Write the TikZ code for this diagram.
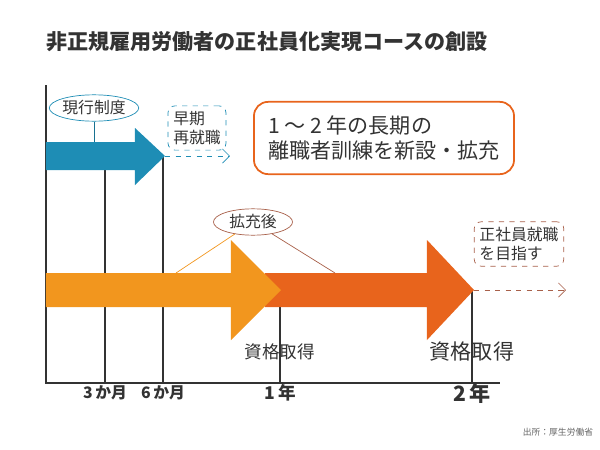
\documentclass[tikz,border=0pt]{standalone}
\usepackage{fontspec}
\setmainfont{Noto Sans CJK JP}
\usetikzlibrary{arrows.meta,shapes.geometric}
\definecolor{jpblue}{HTML}{1E8DB5}
\definecolor{jplight}{HTML}{F2961E}
\definecolor{jpdark}{HTML}{E8641C}
\definecolor{jpbrown}{HTML}{A8604A}
\definecolor{jptext}{HTML}{333333}
\tikzstyle{tick}=[draw=black!80, line width=0.6pt]
\tikzstyle{oval}=[ellipse, draw, fill=white, inner sep=0pt, minimum height=15pt, font=\small, text=jptext]
\tikzstyle{note}=[draw, dashed, rounded corners=4pt, align=left, font=\small, text=jptext, inner sep=3pt]
\begin{document}
\begin{tikzpicture}[x=0.02cm,y=-0.02cm]
  \useasboundingbox (0,0) rectangle (600,450);
  \node[anchor=west,font=\bfseries\large,text=jptext](title) at (40,42) {非正規雇用労働者の正社員化実現コースの創設};
  % time axis
  \coordinate (o) at (46,383);
  \coordinate (top) at (46,85);
  \coordinate (end) at (500,383);
  \draw[tick] (top) -- (o) -- (end);
  \draw[tick] (105,160) -- (105,383);
  \draw[tick] (163,157) -- (163,383);
  \draw[tick] (280,300) -- (280,383);
  \draw[tick] (472,290) -- (472,383);
  \node[font=\small\bfseries,text=jptext](m3) at (105,393) {3\,か月};
  \node[font=\small\bfseries,text=jptext](m6) at (163,393) {6\,か月};
  \node[font=\bfseries,text=jptext](y1) at (280,393) {1\,年};
  \node[font=\large\bfseries,text=jptext](y2) at (472,393) {2\,年};
  % current scheme
  \fill[jpblue] (46,142) -- (135,142) -- (135,128) -- (165,156) -- (135,185) -- (135,170) -- (46,170) -- cycle;
  \coordinate (btip) at (165,156);
  \coordinate (bend) at (230,156);
  \node[oval,draw=jpblue,minimum width=50pt](now) at (94,108) {現行制度};
  \draw[jpblue!80!black] (now.south) -- (94,142);
  \node[note,draw=jpblue](early) at (197,128) {早期\\再就職};
  \draw[jpblue,dashed,-{Straight Barb[length=4pt]}] (btip) -- (bend);
  \node[draw=jpdark,line width=1pt,rounded corners=8pt,align=left,text=jptext,inner sep=8pt,font=\large](msg) at (384,138) {1 ～ 2 年の長期の\\離職者訓練を新設・拡充};
  % expanded scheme
  \fill[jpdark] (265,273) -- (427,273) -- (427,240) -- (474,290) -- (427,340) -- (427,307) -- (265,307) -- cycle;
  \fill[jplight] (46,273) -- (231,273) -- (231,240) -- (281,290) -- (231,340) -- (231,307) -- (46,307) -- cycle;
  \coordinate (otip) at (474,290);
  \coordinate (oend) at (566,290);
  \node[oval,draw=jpbrown,minimum width=45pt](after) at (253,222) {拡充後};
  \draw[jplight] (after) -- (176,273);
  \draw[jpbrown] (after) -- (335,273);
  \node[note,draw=jpbrown](goal) at (519,244) {正社員就職\\を目指す};
  \draw[jpbrown,dashed,-{Straight Barb[length=4pt]}] (otip) -- (oend);
  \node[text=jptext](q1) at (280,352) {資格取得};
  \node[text=jptext,font=\large](q2) at (472,352) {資格取得};
  \node[font=\tiny,text=black!60](src) at (558,432) {出所：厚生労働省};
\end{tikzpicture}
\end{document}
